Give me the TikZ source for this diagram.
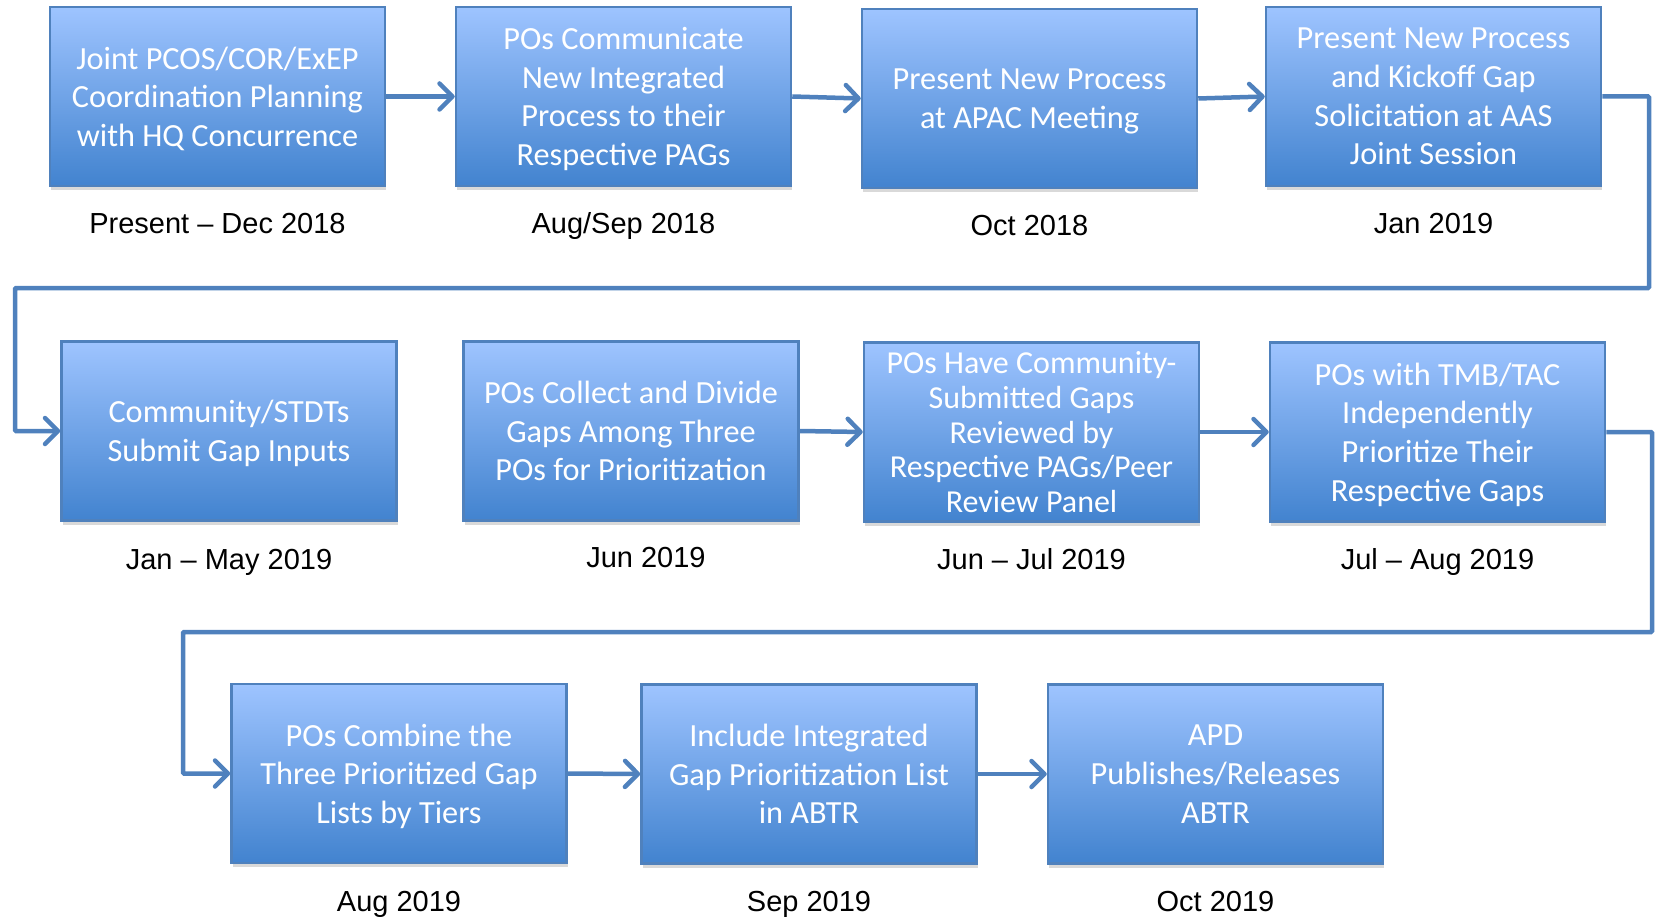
\documentclass[tikz,border=0pt]{standalone}
\usepackage{fontspec}
\setmainfont{Carlito}
\newfontfamily\datefont{Liberation Sans}
\usetikzlibrary{arrows.meta,shadows}

\definecolor{boxtop}{RGB}{158,196,255}
\definecolor{boxmid}{RGB}{128,176,242}
\definecolor{boxbot}{RGB}{66,131,207}
\definecolor{boxline}{RGB}{79,129,189}

\tikzset{
	stepbox/.style={rectangle,
		draw = boxline,
		line width = 2.5pt,
		top color = boxtop,
		middle color = boxmid,
		bottom color = boxbot,
		text = white,
		align = center,
		inner sep = 0pt,
		text depth = 0pt,
		minimum width = 335pt,
		minimum height = 179pt,
		font = \fontsize{32.3}{38.7}\selectfont,
		drop shadow = {opacity=0.3, shadow xshift=1pt, shadow yshift=-4pt}},
	datelbl/.style={text = black,
		anchor = base,
		font = \datefont\fontsize{29}{33}\selectfont},
	flow/.style={draw = boxline,
		line width = 4.5pt,
		-{Straight Barb[length=13pt, width=26pt, round]}}
}

\begin{document}
\begin{tikzpicture}[x=1pt, y=-1pt]
	
	\useasboundingbox (0,0) rectangle (1656,917);
	
	% first row
	\node[stepbox] (b1) at (217.5,96.5) {Joint PCOS/COR/ExEP\\Coordination Planning\\with HQ Concurrence};
	\node[stepbox] (b2) at (623.5,96.5) {POs Communicate\\New Integrated\\Process to their\\Respective PAGs};
	\node[stepbox] (b3) at (1029.5,98.5) {Present New Process\\at APAC Meeting};
	\node[stepbox] (b4) at (1433.5,96.5) {Present New Process\\and Kickoff Gap\\Solicitation at AAS\\Joint Session};
	
	\node[datelbl] (d1) at (217.5,234) {Present – Dec 2018};
	\node[datelbl] (d2) at (623.5,234) {Aug/Sep 2018};
	\node[datelbl] (d3) at (1029.5,235.5) {Oct 2018};
	\node[datelbl] (d4) at (1433.5,234) {Jan 2019};
	
	% second row
	\node[stepbox] (b5) at (229,431) {Community/STDTs\\Submit Gap Inputs};
	\node[stepbox] (b6) at (631,431) {POs Collect and Divide\\Gaps Among Three\\POs for Prioritization};
	\node[stepbox, font=\fontsize{32}{34.8}\selectfont] (b7) at (1031.5,432) {POs Have Community-\\Submitted Gaps\\Reviewed by\\Respective PAGs/Peer\\Review Panel};
	\node[stepbox] (b8) at (1437.5,432) {POs with TMB/TAC\\Independently\\Prioritize Their\\Respective Gaps};
	
	\node[datelbl] (d5) at (229,569.5) {Jan – May 2019};
	\node[datelbl] (d6) at (646,567.5) {Jun 2019};
	\node[datelbl] (d7) at (1031.5,569.5) {Jun – Jul 2019};
	\node[datelbl] (d8) at (1437.5,569.5) {Jul – Aug 2019};
	
	% third row
	\node[stepbox] (b9) at (399,773.5) {POs Combine the\\Three Prioritized Gap\\Lists by Tiers};
	\node[stepbox] (b10) at (809,774) {Include Integrated\\Gap Prioritization List\\in ABTR};
	\node[stepbox] (b11) at (1215.5,774) {APD\\Publishes/Releases\\ABTR};
	
	\node[datelbl] (d9) at (399,911.5) {Aug 2019};
	\node[datelbl] (d10) at (809,911.5) {Sep 2019};
	\node[datelbl] (d11) at (1215.5,911.5) {Oct 2019};
	
	% turns between rows
	\coordinate (t1) at (1649,288);
	\coordinate (t2) at (15,288);
	\coordinate (t3) at (1652,632);
	\coordinate (t4) at (183,632);
	
	\draw[flow] (b1.east) to (b2.west);
	\draw[flow] (b2.east) to (b3.west);
	\draw[flow] (b3.east) to (b4.west);
	\draw[flow, rounded corners=1pt] (b4.east) -| (t1) -- (t2) |- (b5.west);
	
	\draw[flow] (b6.east) to (b7.west);
	\draw[flow] (b7.east) to (b8.west);
	\draw[flow, rounded corners=1pt] (b8.east) -| (t3) -- (t4) |- (b9.west);
	
	\draw[flow] (b9.east) to (b10.west);
	\draw[flow] (b10.east) to (b11.west);
	
\end{tikzpicture}
\end{document}
